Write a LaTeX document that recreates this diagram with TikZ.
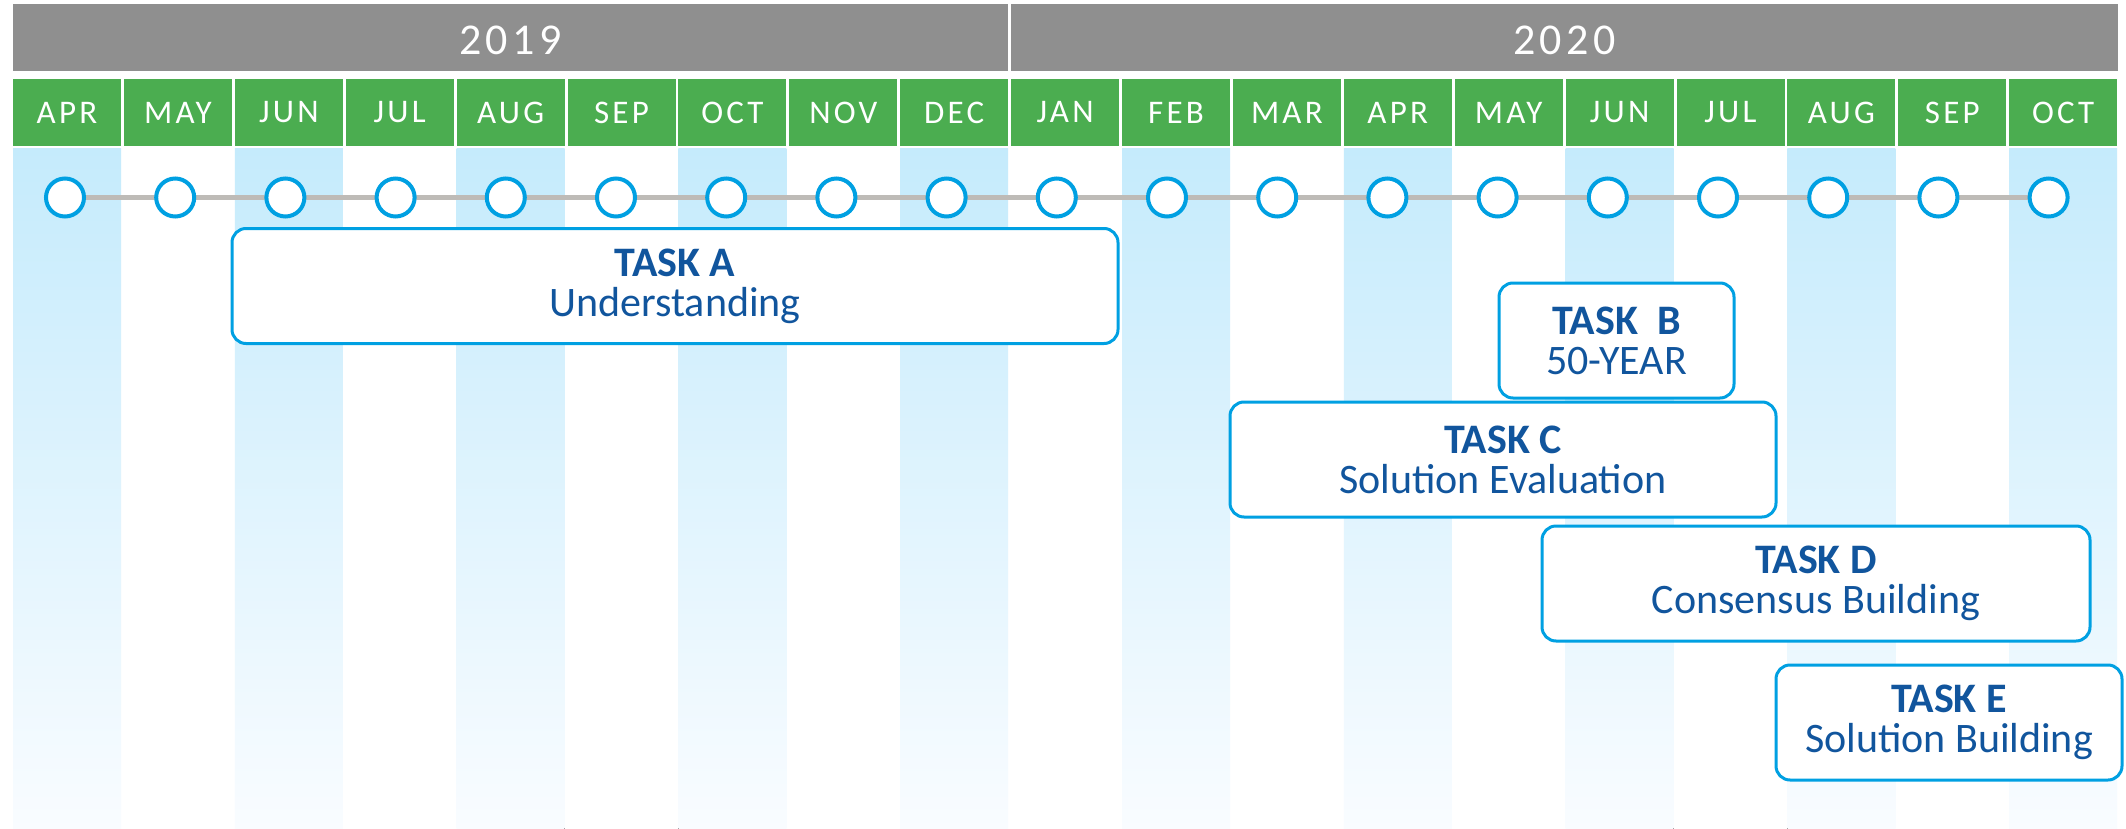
\documentclass[tikz,border=0pt]{standalone}
\usepackage{fontspec}
\setmainfont{Carlito}
\newfontfamily\spacedfont[LetterSpace=10]{Carlito}
\usetikzlibrary{positioning,backgrounds}
\definecolor{yeargray}{RGB}{143,143,143}
\definecolor{monthgreen}{RGB}{75,173,80}
\definecolor{stripetop}{RGB}{197,235,252}
\definecolor{stripebot}{RGB}{249,252,255}
\definecolor{dotblue}{RGB}{0,160,226}
\definecolor{linegray}{RGB}{190,187,183}
\definecolor{taskblue}{RGB}{17,85,157}

\begin{document}
\begin{tikzpicture}[x=0.5pt,y=-0.5pt,
  year/.style={fill=yeargray,text=white,minimum height=33.5pt,inner sep=0,
    text height=17.5pt,text depth=0pt,font=\spacedfont\fontsize{22}{22}\selectfont},
  month/.style={fill=monthgreen,text=white,minimum width=54pt,minimum height=33.5pt,
    inner sep=0,font=\spacedfont\fontsize{16.5}{16.5}\selectfont},
  stripe/.style={top color=stripetop,bottom color=stripebot},
  dot/.style={circle,draw=dotblue,line width=2pt,fill=white,minimum size=19pt,inner sep=0},
  task/.style={draw=dotblue,line width=1.5pt,fill=white,rounded corners=7pt,inner sep=0,
    minimum height=57.5pt,align=center,text=taskblue,font=\fontsize{21}{20}\selectfont}]
  \useasboundingbox (0,0) rectangle (2126,829);
  % years
  \node[year,minimum width=497.5pt] (y2019) at (510.5,37.5) {2019};
  \node[year,minimum width=553.5pt] (y2020) at (1564.5,37.5) {2020};
  % months and timeline dots
  \foreach \m [count=\i from 0] in {APR,MAY,JUN,JUL,AUG,SEP,OCT,NOV,DEC,
      JAN,FEB,MAR,APR,MAY,JUN,JUL,AUG,SEP,OCT} {
    \node[month] (m\i) at ({67+110.9*\i},112.5) {\m};
    \node[dot] (dot\i) at ({65+110.2*\i},197.5) {};
  }
  \begin{scope}[on background layer]
    \fill[white] (0,0) rectangle (2126,829);
    \foreach \i in {0,2,...,18}
      \fill[stripe] ({13+110.9*\i},149) rectangle +(108,680);
    \draw[linegray,line width=2.5pt] (dot0) -- (dot18);
  \end{scope}
  % tasks
  \node[task,minimum width=443pt] (ta) at (675,286) {\textbf{TASK A}\\Understanding};
  \node[task,minimum width=117.5pt] (tb) at (1616.5,340.5) {\textbf{TASK~~B}\\50-YEAR};
  \node[task,minimum width=273pt] (tc) at (1503,459.5) {\textbf{TASK C}\\Solution Evaluation};
  \node[task,minimum width=274pt] (td) at (1816,583.5) {\textbf{TASK D}\\Consensus Building};
  \node[task,minimum width=173pt] (te) at (1949,722.5) {\textbf{TASK E}\\Solution Building};
\end{tikzpicture}
\end{document}
